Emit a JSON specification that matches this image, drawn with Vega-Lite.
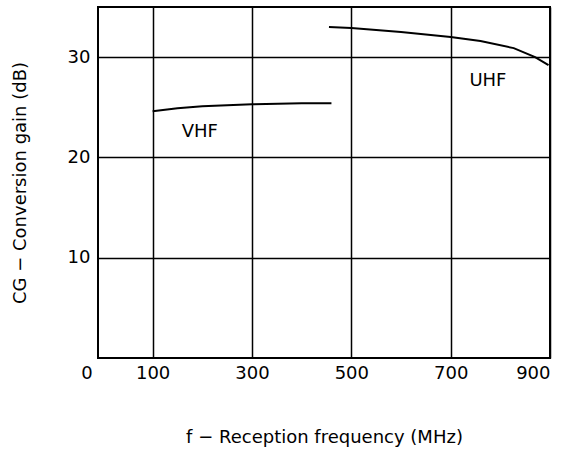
{
  "$schema": "https://vega.github.io/schema/vega-lite/v6.json",
  "autosize": {"type": "none"},
  "padding": {"left": 98, "top": 7, "right": 27, "bottom": 92},
  "width": 452,
  "height": 351,
  "background": "white",
  "config": {
    "view": {"stroke": "black", "strokeWidth": 2},
    "font": "DejaVu Sans",
    "axis": {
      "gridColor": "black",
      "gridOpacity": 1,
      "gridWidth": 1.5,
      "domain": false,
      "ticks": false,
      "labelFont": "DejaVu Sans",
      "labelFontSize": 18,
      "labelColor": "black",
      "titleFont": "DejaVu Sans",
      "titleFontSize": 18,
      "titleFontWeight": "normal",
      "titleColor": "black"
    }
  },
  "datasets": {
    "curves": [
      {"band": "VHF", "f": 100, "g": 24.6},
      {"band": "VHF", "f": 150, "g": 24.9},
      {"band": "VHF", "f": 200, "g": 25.1},
      {"band": "VHF", "f": 300, "g": 25.3},
      {"band": "VHF", "f": 400, "g": 25.4},
      {"band": "VHF", "f": 460, "g": 25.4},
      {"band": "UHF", "f": 455, "g": 33.0},
      {"band": "UHF", "f": 500, "g": 32.9},
      {"band": "UHF", "f": 600, "g": 32.5},
      {"band": "UHF", "f": 700, "g": 32.0},
      {"band": "UHF", "f": 760, "g": 31.6},
      {"band": "UHF", "f": 827, "g": 30.9},
      {"band": "UHF", "f": 870, "g": 30.0},
      {"band": "UHF", "f": 897, "g": 29.2}
    ],
    "labels": [
      {"f": 195, "g": 22.5, "label": "VHF"},
      {"f": 775, "g": 27.6, "label": "UHF"}
    ],
    "origin": [
      {"f": -10, "g": 0, "label": "0"}
    ]
  },
  "layer": [
    {
      "data": {"name": "curves"},
      "mark": {"type": "line", "color": "black", "strokeWidth": 2},
      "encoding": {
        "x": {
          "field": "f", "type": "quantitative",
          "scale": {"domain": [-10, 900], "nice": false, "zero": false},
          "axis": {"values": [100, 300, 500, 700, 900], "title": "f − Reception frequency (MHz)", "labelPadding": 6, "titlePadding": 46}
        },
        "y": {
          "field": "g", "type": "quantitative",
          "scale": {"domain": [0, 35], "nice": false},
          "axis": {"values": [10, 20, 30], "title": "CG − Conversion gain (dB)", "labelPadding": 8, "titlePadding": 38}
        },
        "detail": {"field": "band"}
      }
    },
    {
      "data": {"name": "labels"},
      "mark": {"type": "text", "fontSize": 18, "color": "black", "font": "DejaVu Sans"},
      "encoding": {
        "x": {"field": "f", "type": "quantitative"},
        "y": {"field": "g", "type": "quantitative"},
        "text": {"field": "label"}
      }
    },
    {
      "data": {"name": "origin"},
      "mark": {"type": "text", "fontSize": 18, "color": "black", "font": "DejaVu Sans", "dx": -11, "dy": 16},
      "encoding": {
        "x": {"field": "f", "type": "quantitative"},
        "y": {"field": "g", "type": "quantitative"},
        "text": {"field": "label"}
      }
    }
  ]
}
